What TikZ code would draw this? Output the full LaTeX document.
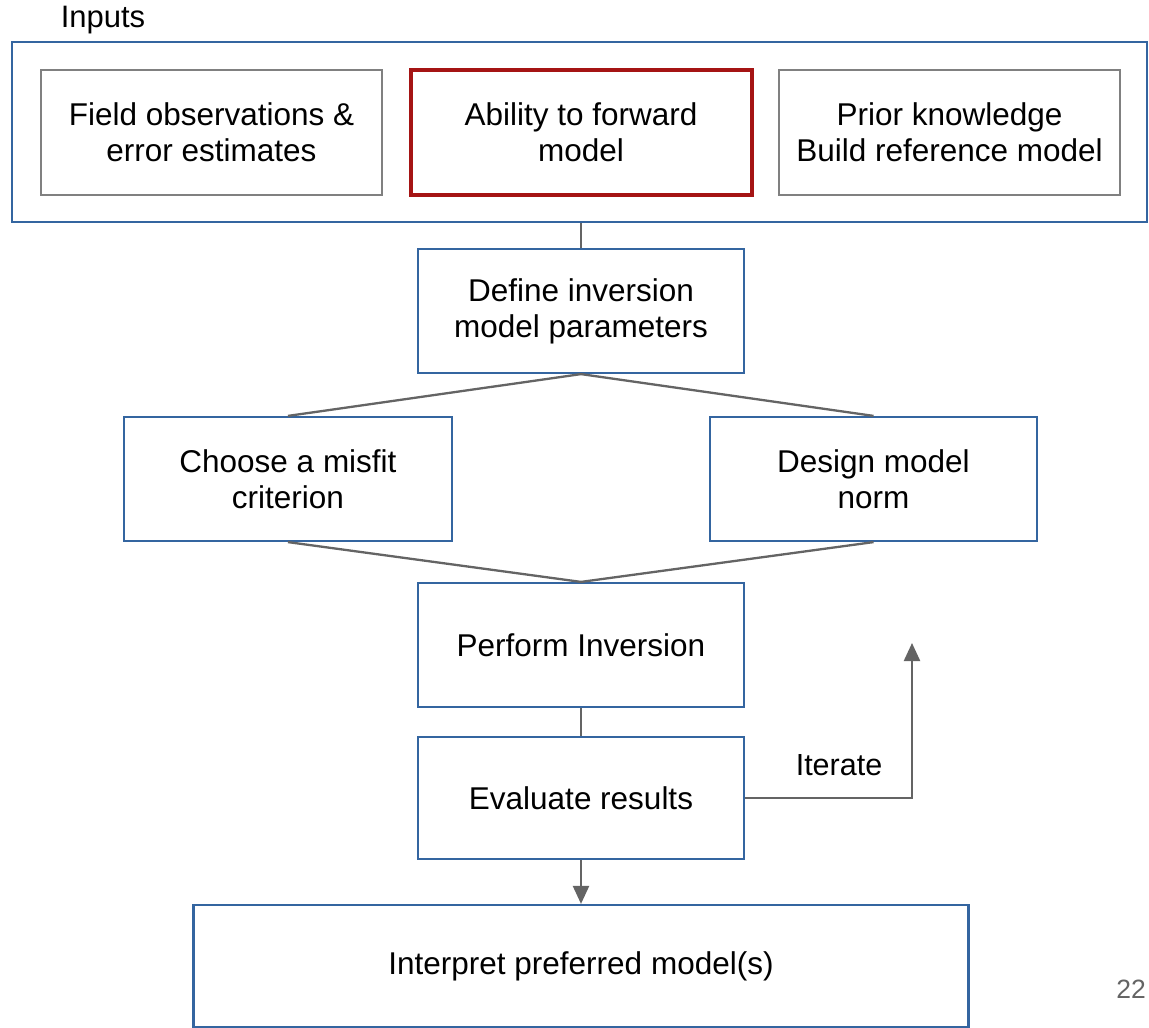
\documentclass[tikz,border=0pt]{standalone}
\usepackage{fontspec}
\setmainfont{Liberation Sans}
\usetikzlibrary{arrows.meta}

\definecolor{boxblue}{RGB}{52,101,160}
\definecolor{boxgrey}{RGB}{128,128,128}
\definecolor{boxred}{RGB}{165,20,20}
\definecolor{linegrey}{RGB}{100,100,100}

\tikzstyle{block}=[draw=boxblue,line width=2.2pt,fill=white,align=center,inner sep=0pt,font=\fontsize{31.5}{36}\selectfont]
\tikzstyle{inbox}=[block,draw=boxgrey,line width=2.6pt,minimum width=341pt,minimum height=125pt]
\tikzstyle{link}=[draw=linegrey,line width=2.3pt]

\begin{document}
\begin{tikzpicture}[x=1pt,y=-1pt]
    \useasboundingbox (0,0) rectangle (1149,1028);

    \node[block,minimum width=1135pt,minimum height=180pt] (inputs) at (579.5,132) {};
    \node[font=\fontsize{31}{36}\selectfont] (inlabel) at (103,20) {Inputs};
    \node[inbox] (field) at (211.5,132.5) {Field observations \&\\error estimates};
    \node[inbox,draw=boxred,line width=4pt] (ability) at (581,132.5) {Ability to forward\\model};
    \node[inbox] (prior) at (949.5,132.5) {Prior knowledge\\Build reference model};

    \node[block,minimum width=326pt,minimum height=124pt] (define) at (581,311) {Define inversion\\model parameters};
    \node[block,minimum width=328pt,minimum height=124pt] (choose) at (288,479) {Choose a misfit\\criterion};
    \node[block,minimum width=327pt,minimum height=124pt] (design) at (873.5,479) {Design model\\norm};
    \node[block,minimum width=326pt,minimum height=124pt] (perform) at (581,645) {Perform Inversion};
    \node[block,minimum width=326pt,minimum height=122pt] (evaluate) at (581,798) {Evaluate results};
    \node[block,minimum width=775pt,minimum height=122pt] (interpret) at (581,966) {Interpret preferred model(s)};

    \node[font=\fontsize{30.5}{36}\selectfont] (iterate) at (839,765) {Iterate};
    \node[text=linegrey,font=\fontsize{26.5}{30}\selectfont] (page) at (1131,989) {22};

    \coordinate (corner) at (912,798);
    \coordinate (iterend) at (912,643);

    \draw[link] (define.north |- inputs.south) -- (define.north);
    \draw[link] (define.south) -- (choose.north);
    \draw[link] (define.south) -- (design.north);
    \draw[link] (choose.south) -- (perform.north);
    \draw[link] (design.south) -- (perform.north);
    \draw[link] (perform.south) -- (evaluate.north);
    \draw[link,-{Triangle[length=18pt,width=16pt]}] (evaluate.south) -- (interpret.north);
    \draw[link,-{Triangle[length=18pt,width=16pt]}] (evaluate.east) -- (corner) -- (iterend);

\end{tikzpicture}
\end{document}
